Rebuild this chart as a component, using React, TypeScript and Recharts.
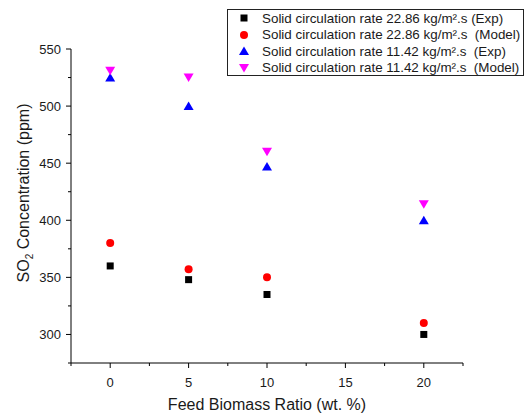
import React from "react";
import { ScatterChart, Scatter, XAxis, YAxis } from "recharts";

const feedRatio = [0, 5, 10, 20];
const exp2286 = [360, 348, 335, 300];
const model2286 = [380, 357, 350, 310];
const exp1142 = [525, 500, 447, 400];
const model1142 = [531, 525, 460, 414];

const xTicks = [-2.5, 0, 2.5, 5, 7.5, 10, 12.5, 15, 17.5, 20, 22.5];
const yTicks = [275, 300, 325, 350, 375, 400, 425, 450, 475, 500, 525, 550];

const FONT = "'Liberation Sans', Arial, sans-serif";

type Shape = "square" | "circle" | "up" | "down";

const series: { name: string; values: number[]; color: string; shape: Shape }[] = [
  { name: "Solid circulation rate 22.86 kg/m\u00b2.s (Exp)", values: exp2286, color: "#000000", shape: "square" },
  { name: "Solid circulation rate 22.86 kg/m\u00b2.s  (Model)", values: model2286, color: "#ff0000", shape: "circle" },
  { name: "Solid circulation rate 11.42 kg/m\u00b2.s  (Exp)", values: exp1142, color: "#0000ff", shape: "up" },
  { name: "Solid circulation rate 11.42 kg/m\u00b2.s  (Model)", values: model1142, color: "#ff00ff", shape: "down" },
];

function markerPath(shape: Shape, cx: number, cy: number, color: string) {
  if (shape === "square") return <rect x={cx - 3.5} y={cy - 3.5} width={7} height={7} fill={color} />;
  if (shape === "circle") return <circle cx={cx} cy={cy} r={4} fill={color} />;
  if (shape === "up")
    return <polygon points={`${cx},${cy - 4.5} ${cx + 5},${cy + 4} ${cx - 5},${cy + 4}`} fill={color} />;
  return <polygon points={`${cx},${cy + 4.5} ${cx + 5},${cy - 4} ${cx - 5},${cy - 4}`} fill={color} />;
}

function makeShape(shape: Shape, color: string) {
  return (props: any) => <g>{markerPath(shape, props.cx, props.cy, color)}</g>;
}

function YTick(props: any) {
  const { x, y, payload } = props;
  const major = payload.value % 50 === 0;
  return (
    <g>
      <line x1={x} x2={x - (major ? 5 : 3)} y1={y} y2={y} stroke="#000" />
      {major && (
        <text x={x - 10} y={y} dy="0.36em" textAnchor="end" fontSize={13} fontFamily={FONT} fill="#1a1a1a">
          {payload.value}
        </text>
      )}
    </g>
  );
}

function XTick(props: any) {
  const { x, y, payload } = props;
  const major = payload.value % 5 === 0;
  return (
    <g>
      <line x1={x} x2={x} y1={y} y2={y + (major ? 5 : 3)} stroke="#000" />
      {major && (
        <text x={x} y={y + 24} textAnchor="middle" fontSize={13} fontFamily={FONT} fill="#1a1a1a">
          {payload.value}
        </text>
      )}
    </g>
  );
}

export default function App() {
  return (
    <div style={{ position: "absolute", left: 0, top: 0, width: 526, height: 417, background: "#fff" }}>
      <ScatterChart width={526} height={417} margin={{ top: 49, right: 63, bottom: 0, left: 0 }}>
        <XAxis
          type="number"
          dataKey="x"
          domain={[-2.5, 22.5]}
          ticks={xTicks}
          interval={0}
          height={54}
          tickSize={0}
          tickMargin={0}
          tickLine={false}
          axisLine={{ stroke: "#000" }}
          tick={<XTick />}
          allowDataOverflow
        />
        <YAxis
          type="number"
          dataKey="y"
          domain={[275, 550]}
          ticks={yTicks}
          interval={0}
          width={71}
          tickSize={0}
          tickMargin={0}
          tickLine={false}
          axisLine={{ stroke: "#000" }}
          tick={<YTick />}
          allowDataOverflow
        />
        {series.map((s) => (
          <Scatter
            key={s.name}
            name={s.name}
            data={feedRatio.map((x, i) => ({ x, y: s.values[i] }))}
            fill={s.color}
            shape={makeShape(s.shape, s.color)}
            isAnimationActive={false}
          />
        ))}
      </ScatterChart>
      <svg width={526} height={417} style={{ position: "absolute", left: 0, top: 0, pointerEvents: "none" }}>
        <text x={267} y={410} textAnchor="middle" fontSize={16} fontFamily={FONT} fill="#1a1a1a">
          Feed Biomass Ratio (wt. %)
        </text>
        <text
          transform="translate(28.5,193) rotate(-90)"
          textAnchor="middle"
          fontSize={16}
          fontFamily={FONT}
          fill="#1a1a1a"
        >
          SO
          <tspan fontSize={10} dy={4}>2</tspan>
          <tspan dy={-4}> Concentration (ppm)</tspan>
        </text>
      </svg>
      <div
        style={{
          position: "absolute",
          left: 227,
          top: 9,
          width: 295,
          height: 65,
          border: "1px solid #222",
          background: "#fff",
          fontFamily: FONT,
          fontSize: 13.4,
          color: "#1a1a1a",
          boxSizing: "content-box",
        }}
      >
        {series.map((s) => (
          <div key={s.name} style={{ height: 16.5, display: "flex", alignItems: "center", whiteSpace: "pre" }}>
            <svg width={34} height={16} style={{ flex: "none" }}>
              {markerPath(s.shape, 16, 8, s.color)}
            </svg>
            <span>{s.name}</span>
          </div>
        ))}
      </div>
    </div>
  );
}
